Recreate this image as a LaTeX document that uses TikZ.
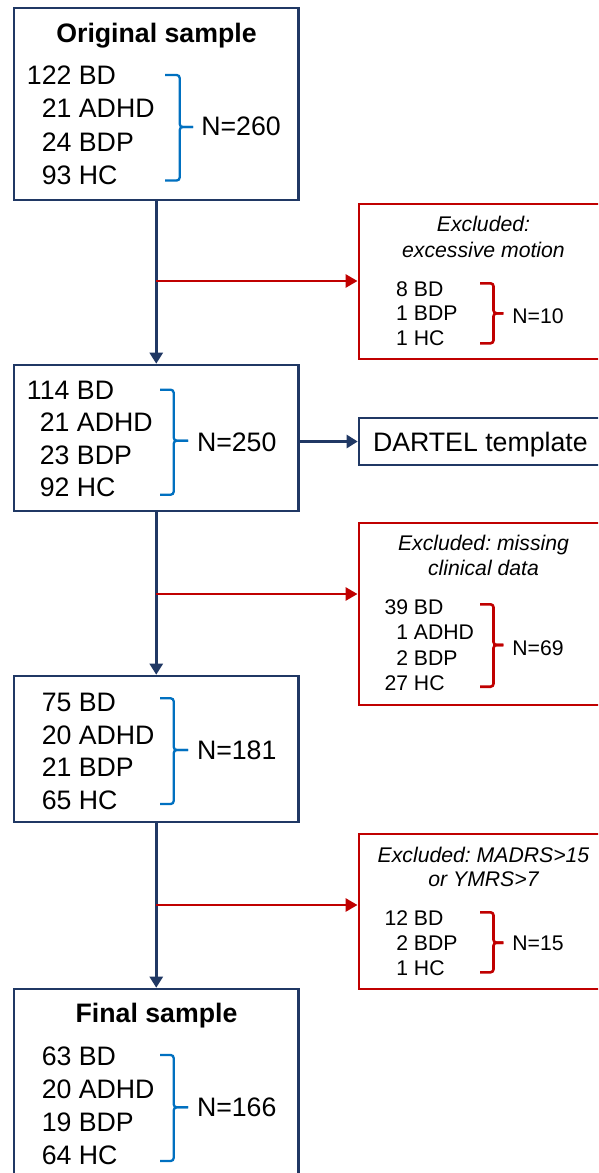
\documentclass[tikz,border=0pt]{standalone}
\usepackage{fontspec}
\setmainfont{Liberation Sans}
\usetikzlibrary{arrows.meta}
\definecolor{navy}{HTML}{203864}
\definecolor{exred}{HTML}{C00000}
\definecolor{brblue}{HTML}{0070C0}
\newcommand{\bigfnt}[1]{\fontsize{26.7}{#1}\selectfont}
\newcommand{\smallfnt}[1]{\fontsize{21.2}{#1}\selectfont}
\frenchspacing
\begin{document}
\begin{tikzpicture}[x=1pt,y=-1pt,
  mainbox/.style={draw=navy,line width=2.6pt,inner sep=0pt},
  exbox/.style={draw=exred,line width=2.9pt,inner sep=0pt},
  navyarrow/.style={draw=navy,line width=2.6pt,-{Triangle[length=11pt,width=13pt]}},
  redarrow/.style={draw=exred,line width=2.8pt,-{Triangle[length=12pt,width=13pt]}},
  bluebrace/.style={draw=brblue,line width=2.3pt,rounded corners=3pt},
  redbrace/.style={draw=exred,line width=2.6pt,rounded corners=3pt},
  txt/.style={inner sep=0pt,outer sep=0pt}
]
\useasboundingbox (0,0) rectangle (598,1173);
\clip (0,0) rectangle (598,1173);
\fill[white] (0,0) rectangle (598,1173);

% main boxes
\node[mainbox,minimum width=284.5pt,minimum height=192pt] (b1) at (156.25,104) {};
\node[mainbox,minimum width=284.5pt,minimum height=146pt] (b2) at (156.25,438) {};
\node[mainbox,minimum width=284.5pt,minimum height=146pt] (b3) at (156.25,749) {};
\node[mainbox,minimum width=284.5pt,minimum height=220pt] (b4) at (156.25,1099) {};

% exclusion boxes
\node[exbox,minimum width=281pt,minimum height=155pt] (r1) at (499.5,281.5) {};
\node[exbox,minimum width=281pt,minimum height=182pt] (r2) at (499.5,614) {};
\node[exbox,minimum width=281pt,minimum height=155pt] (r3) at (499.5,911.5) {};

% DARTEL box
\node[mainbox,minimum width=281pt,minimum height=47pt] (dartel) at (499.5,441.5) {};
\node[txt,anchor=base west,font={\bigfnt{32}}] (dtext) at (373,451.7) {DARTEL template};

% titles
\node[txt,anchor=base,font={\bigfnt{32}\bfseries}] (t1) at (156.5,42.5) {Original sample};
\node[txt,anchor=base,font={\bigfnt{32}\bfseries}] (t4) at (156.5,1022.5) {Final sample};

% lists in main boxes
\node[txt,anchor=base west,font={\bigfnt{33.6}}] (l1) at (27,84)
  {\begin{tabular}[t]{@{}r@{\ }l@{}}122&BD\\21&ADHD\\24&BDP\\93&HC\end{tabular}};
\node[txt,anchor=base west,font={\bigfnt{32.5}}] (l2) at (27,399.3)
  {\begin{tabular}[t]{@{}r@{\ }l@{}}114&BD\\21&ADHD\\23&BDP\\92&HC\end{tabular}};
\node[txt,anchor=base west,font={\bigfnt{32.5}}] (l3) at (41.8,711.7)
  {\begin{tabular}[t]{@{}r@{\ }l@{}}75&BD\\20&ADHD\\21&BDP\\65&HC\end{tabular}};
\node[txt,anchor=base west,font={\bigfnt{33.3}}] (l4) at (41.8,1065)
  {\begin{tabular}[t]{@{}r@{\ }l@{}}63&BD\\20&ADHD\\19&BDP\\64&HC\end{tabular}};

% N labels in main boxes
\node[txt,anchor=base west,font={\bigfnt{32}}] (n1) at (201.3,135) {N=260};
\node[txt,anchor=base west,font={\bigfnt{32}}] (n2) at (197,451.7) {N=250};
\node[txt,anchor=base west,font={\bigfnt{32}}] (n3) at (197,759.3) {N=181};
\node[txt,anchor=base west,font={\bigfnt{32}}] (n4) at (197,1116.7) {N=166};

% blue braces
\draw[bluebrace] (165,75) -| (179.7,127) -- (193,127);
\draw[bluebrace] (165,180.5) -| (179.7,127) -- (193,127);
\draw[bluebrace] (160,389.7) -| (173.7,440.7) -- (188,440.7);
\draw[bluebrace] (160,494.7) -| (173.7,440.7) -- (188,440.7);
\draw[bluebrace] (160,698.3) -| (173.7,750) -- (188,750);
\draw[bluebrace] (160,804) -| (173.7,750) -- (188,750);
\draw[bluebrace] (160,1055) -| (173.7,1107.3) -- (188,1107.3);
\draw[bluebrace] (160,1161) -| (173.7,1107.3) -- (188,1107.3);

% exclusion titles
\node[txt,anchor=base,font={\smallfnt{25.6}\itshape}] (rt1) at (483.5,231.7)
  {\begin{tabular}[t]{@{}c@{}}Excluded:\\excessive motion\end{tabular}};
\node[txt,anchor=base,font={\smallfnt{24.3}\itshape}] (rt2) at (483.5,550.7)
  {\begin{tabular}[t]{@{}c@{}}Excluded: missing\\clinical data\end{tabular}};
\node[txt,anchor=base,font={\smallfnt{24}\itshape}] (rt3) at (483.5,862.7)
  {\begin{tabular}[t]{@{}c@{}}Excluded: MADRS>15\\or YMRS>7\end{tabular}};

% exclusion lists
\node[txt,anchor=base west,font={\smallfnt{24.2}}] (rl1) at (396.2,296.7)
  {\begin{tabular}[t]{@{}r@{\ }l@{}}8&BD\\1&BDP\\1&HC\end{tabular}};
\node[txt,anchor=base west,font={\smallfnt{25.6}}] (rl2) at (384.5,614)
  {\begin{tabular}[t]{@{}r@{\ }l@{}}39&BD\\1&ADHD\\2&BDP\\27&HC\end{tabular}};
\node[txt,anchor=base west,font={\smallfnt{25.3}}] (rl3) at (384.5,925)
  {\begin{tabular}[t]{@{}r@{\ }l@{}}12&BD\\2&BDP\\1&HC\end{tabular}};

% exclusion N labels
\node[txt,anchor=base west,font={\smallfnt{25}}] (rn1) at (512.4,323.3) {N=10};
\node[txt,anchor=base west,font={\smallfnt{25}}] (rn2) at (512.4,655) {N=69};
\node[txt,anchor=base west,font={\smallfnt{25}}] (rn3) at (512.4,950) {N=15};

% red braces
\draw[redbrace] (480,283.3) -| (493.5,313.3) -- (503.3,313.3);
\draw[redbrace] (480,343.3) -| (493.5,313.3) -- (503.3,313.3);
\draw[redbrace] (480,604.3) -| (493.5,645) -- (503.3,645);
\draw[redbrace] (480,686.7) -| (493.5,645) -- (503.3,645);
\draw[redbrace] (480,912.3) -| (493.5,942.7) -- (503.3,942.7);
\draw[redbrace] (480,972.3) -| (493.5,942.7) -- (503.3,942.7);

% connectors
\coordinate (j1) at (156.25,281);
\coordinate (j2) at (156.25,594);
\coordinate (j3) at (156.25,905);
\draw[navyarrow] (b1) -- (b2);
\draw[navyarrow] (b2) -- (b3);
\draw[navyarrow] (b3) -- (b4);
\draw[redarrow] (j1) -- (j1 -| r1.west);
\draw[redarrow] (j2) -- (j2 -| r2.west);
\draw[redarrow] (j3) -- (j3 -| r3.west);
\draw[navyarrow] (dartel.west -| b2.east) -- (dartel.west);
\end{tikzpicture}
\end{document}
